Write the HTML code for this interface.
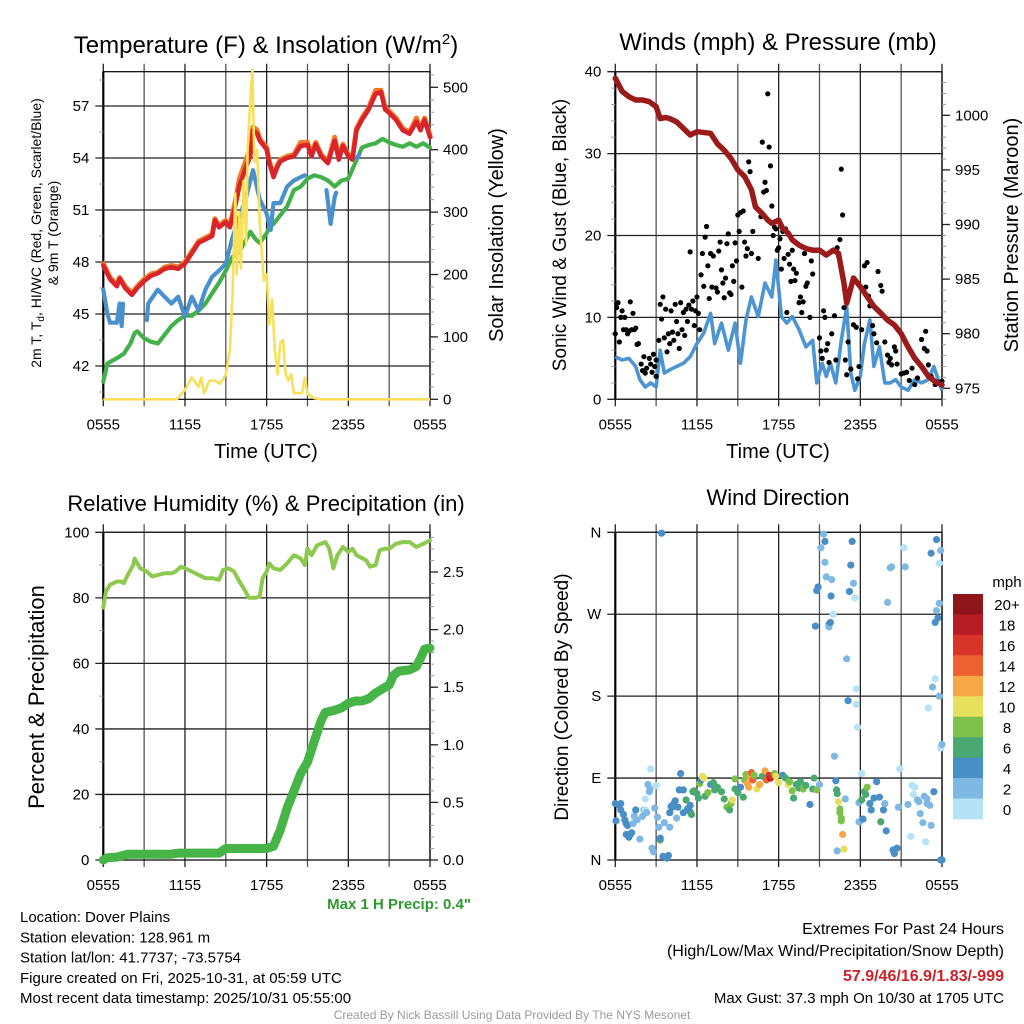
<!DOCTYPE html>
<html><head><meta charset="utf-8"><style>
html,body{margin:0;padding:0;background:#fff}
svg{display:block;font-family:"Liberation Sans",Arial,sans-serif}
</style></head><body>
<svg id="c" width="1024" height="1024" viewBox="0 0 1024 1024"></svg>
<script>
// ---------- Data ----------
const tempHours=[0,0.5,1,1.2,1.6,2.1,2.5,3,3.5,4,4.5,5,5.5,6,6.5,7,7.5,8,8.2,8.5,9,9.3,9.5,9.8,10,10.5,10.8,11,11.3,11.5,12,12.2,12.5,12.8,13,13.5,14,14.5,15,15.3,15.6,16,16.5,17,17.3,17.6,18,18.3,18.6,19,19.5,20,20.4,20.7,21,21.5,22,22.5,23,23.3,23.6,24];
const tempRed=[47.8,47.0,46.6,47.05,46.5,46.1,46.5,46.9,47.2,47.35,47.6,47.7,47.6,47.9,48.5,49.1,49.3,49.5,50.4,50.0,50.3,50.0,50.6,51.6,52.4,53.5,54.1,55.6,55.4,55.0,54.5,53.7,52.9,53.5,53.8,54.0,54.1,54.7,54.75,54.1,54.8,54.1,53.7,55.0,53.9,54.7,54.1,53.9,55.6,56.2,56.8,57.7,57.8,56.8,56.6,56.2,55.6,55.4,56.1,55.6,56.2,55.2];
const tempOrange=[47.9,47.1,46.7,47.1,46.6,46.2,46.6,47.0,47.3,47.4,47.7,47.8,47.7,48.0,48.6,49.2,49.4,49.6,50.5,50.1,50.4,50.1,50.8,51.9,52.8,53.9,54.5,55.8,55.6,55.1,54.6,53.8,53.0,53.6,53.9,54.1,54.2,54.9,54.9,54.2,54.9,54.2,53.8,55.2,54.0,54.8,54.2,54.0,55.7,56.3,56.9,57.9,57.9,56.9,56.7,56.3,55.7,55.5,56.3,55.7,56.3,55.3];
const tdHours=[0,0.3,1,1.5,2,2.3,2.5,3,3.5,4,4.5,5,5.5,6,6.5,7,7.5,8,8.5,9,9.5,10,10.5,10.8,11.2,11.5,12,12.2,12.5,13,13.5,14,14.5,15,15.5,16,16.5,17,17.5,18,18.5,19,19.5,20,20.5,21,21.5,22,22.5,23,23.5,24];
const tempGreen=[41.1,42.15,42.45,42.7,43.3,43.9,44.0,43.6,43.4,43.3,43.8,44.3,44.65,44.9,44.9,45.2,45.6,46.2,46.8,47.5,48.3,48.6,49.3,49.75,49.3,49.1,49.65,50.0,50.2,50.7,51.2,52.15,52.35,52.8,53.0,52.9,52.7,52.35,52.7,52.8,53.7,54.6,54.75,54.85,55.1,54.9,54.75,54.65,54.85,54.65,54.85,54.6];
const hiHours=[0,0.3,0.5,1,1.2,1.35,1.45,null,3.2,3.3,4,4.5,5,5.5,6,6.5,7,7.5,8,8.5,9,9.5,10,10.5,11,11.5,12,12.3,12.5,13,13.5,14,14.5,14.8,null,16.4,16.7,17,17.1,null,18.6,18.8];
const tempBlue=[46.4,45.0,44.5,44.5,45.6,44.3,45.6,null,44.65,45.6,46.4,46.0,45.6,46.0,44.85,46.0,45.2,46.4,47.15,47.5,47.9,49.45,50.6,51.75,53.3,51.6,50.8,49.85,51.4,51.4,52.35,52.7,52.9,53.0,null,52.15,50.2,51.75,52.0,null,53.98,54.2];
const solarHours=[0,5.4,6,6.5,7,7.2,7.4,7.8,8.2,8.6,9,9.3,9.5,9.7,9.8,10,10.1,10.3,10.5,10.6,10.8,10.95,11.1,11.3,11.5,11.8,12,12.2,12.4,12.6,12.8,13,13.2,13.4,13.6,13.8,14,14.3,14.6,14.8,15,15.5,16,24];
const solarVals=[0,0,15,35,20,35,10,30,30,25,40,80,170,330,200,300,210,350,250,400,480,528,380,400,280,190,200,120,160,80,40,90,95,40,30,40,10,10,10,35,8,2,0,0];

const presHours=[0,0.5,1,1.5,2,2.5,3,3.3,3.7,4,4.5,5,5.5,6,7,7.5,8,8.5,9,9.5,10,10.3,10.8,11.2,11.5,12,12.3,12.7,13,13.5,14,14.5,15,15.5,16,16.4,16.8,17,17.2,17.5,18,18.5,19,19.5,20,20.5,21,21.5,22,22.5,23,23.5,24];
const presVals=[1003.4,1002.2,1001.7,1001.4,1001.4,1001.25,1000.8,999.7,999.8,999.7,999.4,998.8,998.2,998.5,998.35,997.4,996.8,996.05,995.0,994.4,993.2,991.6,991.0,990.4,990.1,990.4,989.65,989.2,988.6,988.1,987.8,987.65,987.65,987.2,987.65,987.35,984.6,982.8,983.7,985.1,984.3,983.4,982.5,981.9,981.25,980.8,980.0,978.8,977.75,977.0,976.1,975.6,975.3];
const windHours=[0,0.5,1,1.5,1.8,2.2,2.6,3,3.3,3.6,4,4.5,5,5.5,6,6.5,7,7.3,7.8,8.3,8.8,9.2,9.6,10,10.5,11,11.5,11.8,12.2,12.6,13,13.5,14,14.5,14.8,15.2,15.5,15.8,16.2,16.6,17,17.3,17.6,18,18.3,18.7,19,19.4,19.8,20.2,20.6,21,21.5,22,22.5,23,23.4,23.8,24];
const windVals=[5.2,4.8,5.0,4.0,2.4,1.5,2.0,1.5,6.0,3.2,3.6,4.0,4.4,5.2,6.8,8.1,10.5,6.8,9.3,6.0,9.3,4.4,9.7,12.5,10.1,14.2,12.5,17.0,10.1,9.3,10.1,8.5,6.4,7.2,2.0,4.4,2.8,4.4,2.0,7.2,11.3,3.2,1.1,2.8,6.8,9.7,4.0,6.4,2.0,2.0,2.4,1.5,1.1,2.4,2.0,2.4,4.0,2.0,1.1];
const gustHours=[0,0.1,0.2,0.3,0.4,0.5,0.6,0.7,0.8,0.9,1,1.1,1.2,1.3,1.4,1.5,1.6,1.7,1.9,2.0,2.1,2.2,2.3,2.5,2.6,2.7,2.8,2.9,3.0,3.0,3.2,3.3,3.4,3.5,3.6,3.7,3.8,3.9,4.0,4.1,4.2,4.3,4.4,4.5,4.6,4.7,4.8,4.9,5.0,5.1,5.2,5.3,5.4,5.5,5.6,5.7,5.8,5.9,6.0,6.1,6.2,6.3,6.4,6.5,6.6,6.7,6.8,6.9,7.0,7.1,7.2,7.4,7.5,7.6,7.7,7.8,7.9,8.0,8.1,8.2,8.3,8.4,8.5,8.6,8.7,8.8,8.9,9.0,9.1,9.2,9.3,9.4,9.5,9.6,9.7,9.8,9.9,10.0,10.1,10.5,10.7,10.8,10.9,11.0,11.1,11.2,11.3,11.4,11.5,11.6,11.7,11.8,11.9,12.0,12.1,12.2,12.3,12.4,12.5,12.6,12.7,12.8,12.9,13.0,13.1,13.2,13.3,13.5,13.6,13.7,13.8,13.9,14.0,14.1,14.3,14.4,14.5,15.0,15.1,15.2,15.3,15.4,15.5,15.6,15.7,15.9,16.1,16.2,16.3,16.4,16.5,16.6,16.7,16.8,16.9,17.0,17.1,17.3,17.5,17.7,17.8,17.9,18.1,18.3,18.4,18.5,18.6,18.7,18.9,19.0,19.2,19.3,19.5,19.6,19.8,20.0,20.1,20.2,20.3,20.5,20.6,20.7,21.0,21.2,21.4,21.6,21.8,22.0,22.2,22.5,22.7,22.8,22.9,23.0,23.2,23.5,23.7,24];
const gustVals=[8,11.2,11.8,7,10,10.8,8.5,10,8.5,8,8.3,11.9,8.5,10.5,8.5,8.7,6.7,6.8,4.3,3.5,5.2,3.2,3.8,5,4.3,3.3,5.5,4,4.8,2.8,7.2,11.6,9.8,12.5,7.5,11,5.8,8,6.8,10.8,8.2,7.2,11.6,9.5,8,6.2,11.8,8.5,10.6,7.8,11,9.5,11.5,18,11,12,9,10.8,12.5,10.5,8.5,15.2,17.8,13.8,19.8,21.1,16.3,12.3,17.8,13.7,17.5,13.6,13.1,18.1,19.2,15.8,14.2,12.4,14.8,19,20.2,13,12.8,16.3,14.4,19.1,16.9,22.5,20.5,22.8,13.7,23,19.2,17.5,18.4,29,27.8,17.8,20.5,17.2,22.3,31.4,25.3,26.5,25.5,37.3,30.8,28.5,23.6,20,21,20.8,18.2,18.5,19.6,15.9,20.5,17.2,20.8,10.6,17.7,16.5,14.4,18.2,15.9,14.5,15.4,11.8,12.5,10.6,11.9,17.8,13.8,14.2,10,16.9,15.3,7.5,5.9,5,10.8,10,6,6.8,4.5,8,10.2,4.8,18.5,17.5,19.5,28.1,22.5,11.2,4.8,3,7,3.7,9.1,8.8,2.5,4,8.5,16.3,13.7,16.7,12.6,11.4,9,8,6.9,15.6,13.9,13.2,7,5.4,4.5,5,4.2,6.4,5.9,4.3,3.1,3.2,3.3,2.3,3.8,1.8,2.6,7.3,6.2,8.3,5.9,4.2,2.8,1.8,2.1,2.2];

const rhHours=[0,0.2,0.5,1,1.3,1.5,1.8,2.2,2.3,2.7,3.2,3.6,4,4.5,5,5.3,5.7,6,6.5,7,7.5,8,8.5,8.8,9.2,9.6,10,10.3,10.7,11.2,11.5,11.7,12,12.2,12.5,13,13.5,14,14.5,14.8,15,15.3,15.7,16,16.3,16.6,16.9,17.2,17.6,18,18.3,18.6,19.3,19.6,20,20.3,20.7,21,21.5,22,22.5,23,23.5,24];
const rhVals=[77,82,84,85,85,84.5,87,90,92,89,88,86.5,87,87.5,87.5,88,89.5,89,88,87,86,86,85.5,88.5,89,88,85,83,80,80,80.5,86,88,90.5,89,88.5,90.5,93,92,90,95,93,96,96.5,97,95,89,93,95.5,94,95,93,91.5,89.5,90,94.5,95,95,96.5,97,97,95.5,96.5,97.5];
const precipHours=[0,0.3,1,1.8,3,5,5.5,8.5,9,10,12,12.5,13,13.5,14,14.5,15,15.5,16,16.3,17,17.5,18,18.5,19,19.5,20,21,21.3,21.7,22.5,23,23.3,23.6,24];
const precipVals=[0,0.02,0.025,0.05,0.05,0.05,0.06,0.06,0.1,0.1,0.1,0.12,0.26,0.45,0.6,0.75,0.85,1.03,1.21,1.28,1.3,1.32,1.36,1.38,1.38,1.4,1.45,1.52,1.6,1.64,1.65,1.68,1.75,1.83,1.84];

const dirHours=[0,0.05,0.3,0.4,0.4,0.6,0.7,0.8,0.9,0.8,1.0,1.1,1.2,1.3,1.4,1.5,1.6,1.8,2.0,2.1,2.2,2.2,2.3,2.4,2.5,2.55,2.6,2.7,2.8,2.9,3.0,3.1,3.2,3.3,3.3,3.4,3.5,3.6,3.8,3.7,3.9,4.0,4.0,4.1,4.2,4.3,4.4,4.5,4.6,4.7,4.8,5.0,5.2,5.0,5.3,5.5,5.5,5.6,5.7,5.8,6.0,6.1,6.2,6.3,6.4,6.5,6.6,6.8,7.0,7.2,7.3,7.5,7.8,8.0,8.2,8.4,8.5,8.6,8.8,8.8,9.0,9.2,9.4,9.5,9.6,9.7,9.8,9.9,10.0,10.1,10.2,10.4,10.6,10.8,11.0,11.1,11.3,11.4,11.5,11.7,11.8,12.0,12.3,12.5,12.7,12.8,13.0,13.1,13.3,13.5,13.6,13.8,14.0,14.3,14.5,14.6,14.8,15.0,14.7,14.8,14.9,15.1,15.3,15.4,15.4,15.5,15.7,15.7,15.8,15.85,15.9,16.0,16.1,16.2,16.25,16.3,16.4,16.5,16.5,16.6,16.6,16.7,16.8,16.3,16.9,17.0,17.1,17.2,17.3,17.4,17.5,17.6,17.7,17.7,17.8,17.9,17.9,17.95,18.1,18.1,18.2,18.3,18.4,18.5,18.7,18.8,19.0,19.2,19.4,19.5,19.7,19.8,19.9,20.0,20.2,20.3,20.4,20.5,20.7,20.8,20.9,21.2,21.3,21.5,21.7,21.8,21.9,22.0,22.2,22.3,22.4,22.6,22.7,22.8,22.9,23.0,23.2,23.3,23.5,23.6,23.7,23.8,23.9,24.0,23.5,23.6,23.8,23.9,23.9,24.0,23.8,23.4,23.2,23.1,22.9];
const dirDeg=[62,43,60,62,55,50,44,40,38,28,25,28,30,40,48,55,44,23,48,55,55,67,52,83,75,78,100,13,9,57,82,47,36,22,24,359,4,41,2,3,5,36,52,59,58,62,65,46,58,77,95,77,66,52,56,53,60,50,75,76,73,68,84,88,92,90,70,74,83,85,77,80,75,67,58,55,62,66,89,78,74,80,69,88,94,84,80,92,96,88,93,78,83,92,98,88,93,90,92,95,92,85,93,90,83,86,76,68,83,79,86,78,82,61,78,90,77,83,257,296,300,343,358,350,327,311,259,256,261,290,308,270,114,87,77,73,64,56,52,46,43,28,12,10,67,221,175,295,324,350,304,288,171,188,146,63,42,42,95,66,45,75,72,80,62,55,68,86,69,42,55,62,32,283,321,322,11,7,13,58,100,343,322,61,26,82,72,80,66,64,51,41,70,20,67,167,337,190,199,352,266,326,0,0,261,274,282,340,123,127,180,75,38,60,62];
const dirSpeed=[4,4,5,4,4,4,4,4,4,4,4,4,4,2,3,4,2,2,3,2,1,1,2,3,3,2,1,2,2,2,1,3,2,7,4,4,4,3,4,4,4,2,4,4,4,4,4,2,4,4,4,4,6,4,4,4,4,7,7,6,6,6,8,4,10,10,6,8,4,6,6,7,6,6,8,6,8,10,8,6,6,4,6,8,8,12,12,12,14,14,8,10,12,6,13,15,17,18,16,8,10,10,4,6,10,8,8,6,6,6,6,8,6,4,6,6,8,2,4,4,4,2,2,4,2,2,4,2,4,4,2,1,2,4,7,7,10,8,8,8,8,13,10,2,3,2,4,4,4,4,2,1,1,1,1,3,3,2,1,7,4,6,6,8,4,4,4,4,4,6,4,3,4,3,3,3,4,4,4,2,1,1,3,3,1,1,1,1,2,2,3,3,2,1,2,1,4,2,1,4,4,1,4,4,4,3,3,2,1,2,3,4,2,2,2];
const cbLabels=["20+","18","16","14","12","10","8","6","4","2","0"];
const cbColors=["#8e1519","#b81c24","#d9342a","#ee6030","#f5a845","#e6e05c","#7dc14a","#4aa870","#4a8ec6","#7fb9e3","#b5e2f7"];
const xTickLabels=["0555","1155","1755","2355","0555"];
const tempTicks=[42,45,48,51,54,57];
const solarTicks=[0,100,200,300,400,500];
const windTicks=[0,10,20,30,40];
const presTicks=[975,980,985,990,995,1000];
const rhTicks=[0,20,40,60,80,100];
const precipTicks=["0.0","0.5","1.0","1.5","2.0","2.5"];
const dirTicks=["N","E","S","W","N"];

// ---------- Helpers ----------
const NS="http://www.w3.org/2000/svg";
const svg=document.getElementById('c');
function mk(tag,attrs,parent){const e=document.createElementNS(NS,tag);for(const k in attrs)e.setAttribute(k,attrs[k]);(parent||svg).appendChild(e);return e;}
function txt(s,x,y,size,anchor,parent,extra){const t=mk('text',Object.assign({x:x,y:y,'font-size':size,'text-anchor':anchor||'middle',fill:'#000'},extra||{}),parent);t.textContent=s;return t;}
const X0=103.3,X1=430,X0b=615.3,X1b=942;
function xs(h,left){const a=left?X0b:X0,b=left?X1b:X1;return a+h*(b-a)/24;}
function pathFrom(hrs,vals,xf,yf){let d='',pen=false;for(let i=0;i<hrs.length;i++){if(hrs[i]===null||vals[i]===null){pen=false;continue;}d+=(pen?'L':'M')+xf(hrs[i]).toFixed(1)+' '+yf(vals[i]).toFixed(1);pen=true;}return d;}

function frame(g,x0,x1,y0,y1){
  for(let i=0;i<=8;i++){const x=x0+i*(x1-x0)/8;
    const l=mk('line',{x1:x,x2:x,y1:y0-8,y2:y1+7,stroke:(i%2?'#555':'#222'),'stroke-width':1.3},g);
    
    }
  for(let i=0;i<5;i++){const t=txt(xTickLabels[i],x0+i*(x1-x0)/4,y1+30,15,'middle',g);
    
    }
  const r=mk('rect',{x:x0,y:y0,width:x1-x0,height:y1-y0,fill:'none',stroke:'#000','stroke-width':1.2},g);
  
  
  mk('line',{x1:x0,x2:x0,y1:y0,y2:y1,stroke:'#000','stroke-width':2.2},g);
}
function yAxisLeft(g,x0,x1,ticks,labels,yf,minors){
  minors.forEach(v=>{mk('line',{x1:x0-4,x2:x0,y1:yf(v),y2:yf(v),stroke:'#999','stroke-width':1},g);});
  ticks.forEach((v,i)=>{const y=yf(v);
    const l=mk('line',{x1:x0-8,x2:x1,y1:y,y2:y,stroke:'#222','stroke-width':1.3},g);
    
    
    const t=txt(labels[i],x0-14,y+5,15,'end',g);
    
    });
}
function yAxisRight(g,x1,ticks,labels,yf,minors){
  minors.forEach(v=>{mk('line',{x1:x1,x2:x1+4,y1:yf(v),y2:yf(v),stroke:'#999','stroke-width':1},g);});
  ticks.forEach((v,i)=>{const y=yf(v);
    mk('line',{x1:x1,x2:x1+8,y1:y,y2:y,stroke:'#222','stroke-width':1.3},g);
    const t=txt(labels[i],x1+13,y+5,15,'start',g);
    
    });
}
function range(a,b,s){const r=[];for(let v=a;v<=b+1e-9;v+=s)r.push(+v.toFixed(3));return r;}

// ---------- Panel 1: Temperature ----------
const g1=mk('g',{});


const yT=v=>366-(v-42)*17.333, yS=v=>399.3-v*0.624;
const PT=71.7,PB=399.3;
frame(g1,X0,X1,PT,PB);
yAxisLeft(g1,X0,X1,tempTicks,tempTicks.map(String),yT,range(40.5,58.5,1.5));
yAxisRight(g1,X1,solarTicks,solarTicks.map(String),yS,range(0,520,20));
const p1=[['orange-9m-temp-line',tempHours,tempOrange,'#f07a28',5],['red-temp-line',tempHours,tempRed,'#d8242a',4.5],['green-dewpoint-line',tdHours,tempGreen,'#43b14a',4.2],['blue-hi-wc-line',hiHours,tempBlue,'#4a90cc',4.2]];
p1.forEach(s=>{const p=mk('path',{d:pathFrom(s[1],s[2],h=>xs(h),yT),fill:'none',stroke:s[3],'stroke-width':s[4],'stroke-linejoin':'round','stroke-linecap':'round'},g1);
  
  });
const sol=mk('path',{d:pathFrom(solarHours,solarVals,h=>xs(h),yS),fill:'none',stroke:'#f8e05a','stroke-width':2.6,'stroke-linejoin':'round'},g1);


const t1=txt('',266,53,24,'middle',g1);t1.innerHTML='Temperature (F) &amp; Insolation (W/m<tspan dy="-9" font-size="15">2</tspan><tspan dy="9">)</tspan>';


const yl1=mk('text',{transform:'translate(41,233) rotate(-90)','font-size':14,'text-anchor':'middle'},g1);
yl1.innerHTML='2m T, T<tspan dy="3" font-size="10">d</tspan><tspan dy="-3">, HI/WC (Red, Green, Scarlet/Blue)</tspan>';


const yl1b=mk('text',{transform:'translate(58,233) rotate(-90)','font-size':14,'text-anchor':'middle'},g1);yl1b.textContent='& 9m T (Orange)';


const yr1=mk('text',{transform:'translate(503,235) rotate(-90)','font-size':20,'text-anchor':'middle'},g1);yr1.textContent='Solar Insolation (Yellow)';


const xl1=txt('Time (UTC)',266,458,20,'middle',g1);



// ---------- Panel 2: Winds ----------
const g2=mk('g',{});


const yW=v=>399.3-v*8.19, yP=v=>388.3-(v-975)*10.92;
frame(g2,X0b,X1b,PT,PB);
yAxisLeft(g2,X0b,X1b,windTicks,windTicks.map(String),yW,range(2,38,2));
yAxisRight(g2,X1b,presTicks,presTicks.map(String),yP,range(974,1003,1));
const wl=mk('path',{d:pathFrom(windHours,windVals,h=>xs(h,1),yW),fill:'none',stroke:'#4d95d2','stroke-width':3.6,'stroke-linejoin':'round'},g2);


gustHours.forEach((h,i)=>{const c=mk('circle',{cx:xs(h,1),cy:yW(gustVals[i]),r:2.6,fill:'#000'},g2);
  
  });
const pl=mk('path',{d:pathFrom(presHours,presVals,h=>xs(h,1),yP),fill:'none',stroke:'#9b1a1a','stroke-width':5.5,'stroke-linejoin':'round','stroke-linecap':'round'},g2);


const t2=txt('Winds (mph) & Pressure (mb)',778,50,24,'middle',g2);


const yl2=mk('text',{transform:'translate(566,235) rotate(-90)','font-size':19,'text-anchor':'middle'},g2);yl2.textContent='Sonic Wind & Gust (Blue, Black)';


const yr2=mk('text',{transform:'translate(1018,235) rotate(-90)','font-size':20,'text-anchor':'middle'},g2);yr2.textContent='Station Pressure (Maroon)';


const xl2=txt('Time (UTC)',778,458,20,'middle',g2);



// ---------- Panel 3: RH & Precip ----------
const g3=mk('g',{});


const BT=532.3,BB=860;
const yR=v=>860-v*3.277, yPr=v=>860-v*115.2;
frame(g3,X0,X1,BT,BB);
yAxisLeft(g3,X0,X1,rhTicks,rhTicks.map(String),yR,range(10,90,20));
yAxisRight(g3,X1,precipTicks.map(Number),precipTicks,yPr,range(0.1,2.8,0.1));
const pr=mk('path',{d:pathFrom(precipHours,precipVals,h=>xs(h),yPr),fill:'none',stroke:'#46b446','stroke-width':9,'stroke-linejoin':'round','stroke-linecap':'round'},g3);


const rl=mk('path',{d:pathFrom(rhHours,rhVals,h=>xs(h),yR),fill:'none',stroke:'#8dc94f','stroke-width':4,'stroke-linejoin':'round','stroke-linecap':'round'},g3);


const t3=txt('Relative Humidity (%) & Precipitation (in)',266,511,22,'middle',g3);


const yl3=mk('text',{transform:'translate(44,697) rotate(-90)','font-size':22,'text-anchor':'middle'},g3);yl3.textContent='Percent & Precipitation';


const mp=txt('Max 1 H Precip: 0.4"',471,909,15,'end',g3,{fill:'#2e9a2e','font-weight':'bold'});



// ---------- Panel 4: Wind direction ----------
const g4=mk('g',{});


const yD=v=>860-v*(327.7/360);
frame(g4,X0b,X1b,BT,BB);
yAxisLeft(g4,X0b,X1b,[0,90,180,270,360],dirTicks,yD,[]);
function spColor(s){const idx=Math.min(10,Math.floor(s/2));return cbColors[10-idx];}
dirHours.forEach((h,i)=>{const c=mk('circle',{cx:xs(h,1),cy:yD(dirDeg[i]),r:3.6,fill:spColor(dirSpeed[i])},g4);
  
  });
const t4=txt('Wind Direction',778,505,22,'middle',g4);


const yl4=mk('text',{transform:'translate(568,697) rotate(-90)','font-size':19,'text-anchor':'middle'},g4);yl4.textContent='Direction (Colored By Speed)';


// colorbar
const cb=mk('g',{},g4);


const cbTop=594,cbH=225/11;
cbColors.forEach((col,i)=>{const r=mk('rect',{x:953,y:cbTop+i*cbH,width:30,height:cbH+0.4,fill:col},cb);
  
  
  const t=txt(cbLabels[i],1007,cbTop+i*cbH+cbH/2+6,15,'middle',cb);
  
  });
const mph=txt('mph',1007,587,15,'middle',cb);



// ---------- Footer text ----------
const info=["Location: Dover Plains","Station elevation: 128.961 m","Station lat/lon: 41.7737; -73.5754","Figure created on Fri, 2025-10-31, at 05:59 UTC","Most recent data timestamp: 2025/10/31 05:55:00"];
info.forEach((s,i)=>{const t=txt(s,20,922+i*20.3,15,'start');
  
  });
const ex1=txt('Extremes For Past 24 Hours',1004,934,16,'end');


const ex2=txt('(High/Low/Max Wind/Precipitation/Snow Depth)',1004,956,16,'end');


const ex3=txt('57.9/46/16.9/1.83/-999',1004,981,16,'end',null,{fill:'#cc2229','font-weight':'bold'});


const ex4=txt('Max Gust: 37.3 mph On 10/30 at 1705 UTC',1004,1003,15,'end');


const cr=txt('Created By Nick Bassill Using Data Provided By The NYS Mesonet',512,1019,12,'middle',null,{fill:'#999'});


</script>
</body></html>
